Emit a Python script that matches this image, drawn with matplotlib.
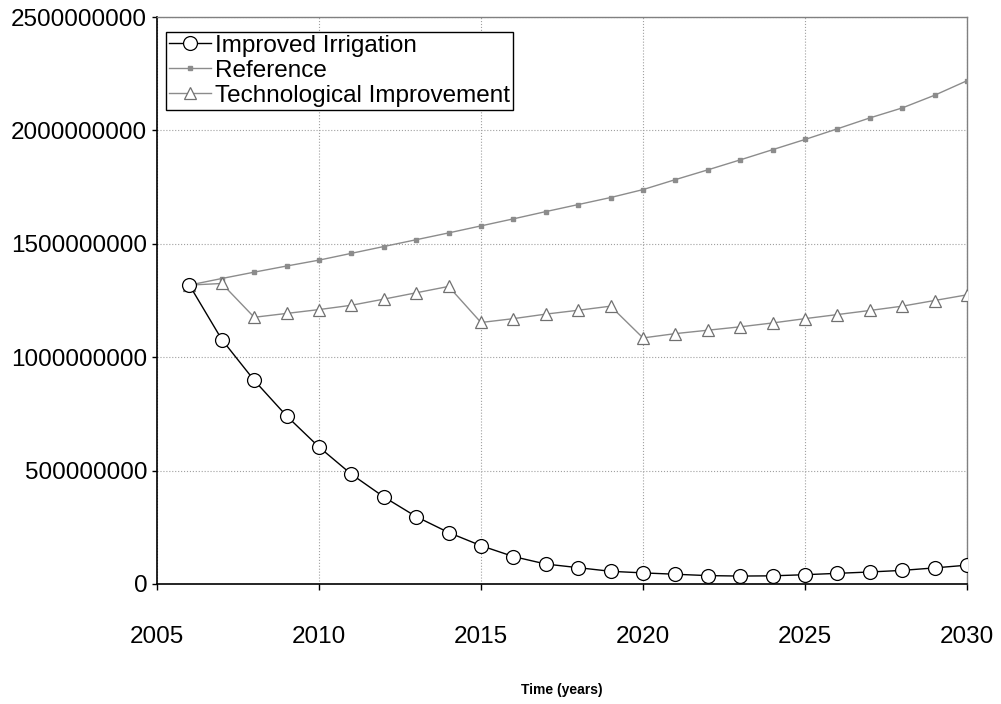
import matplotlib
matplotlib.use("Agg")
import matplotlib.pyplot as plt
from matplotlib.ticker import FuncFormatter

plt.rcParams['font.family'] = ['Liberation Sans', 'DejaVu Sans']

years = list(range(2006, 2031))
improved_irrigation = [1318e6, 1078e6, 898e6, 741e6, 604e6, 484e6, 384e6, 297e6, 227e6,
                       169e6, 121e6, 88e6, 72e6, 56e6, 49e6, 43e6, 37e6, 35e6, 36e6,
                       41e6, 47e6, 53e6, 60e6, 71e6, 83e6]
reference = [1318e6, 1347e6, 1375e6, 1402e6, 1428e6, 1458e6, 1488e6, 1518e6, 1548e6,
             1579e6, 1610e6, 1642e6, 1673e6, 1704e6, 1739e6, 1783e6, 1826e6, 1870e6,
             1915e6, 1960e6, 2007e6, 2055e6, 2099e6, 2155e6, 2219e6]
tech_improvement = [1318e6, 1325e6, 1176e6, 1193e6, 1210e6, 1229e6, 1256e6, 1284e6, 1312e6,
                    1153e6, 1170e6, 1190e6, 1207e6, 1225e6, 1085e6, 1104e6, 1119e6, 1134e6,
                    1151e6, 1170e6, 1188e6, 1206e6, 1225e6, 1250e6, 1275e6]
x_ticks = [2005, 2010, 2015, 2020, 2025, 2030]
y_ticks = [0, 500000000, 1000000000, 1500000000, 2000000000, 2500000000]

fig = plt.figure(figsize=(10.01, 7.04), dpi=100)
ax = fig.add_axes([157/1001, 1-584/704, (967-157)/1001, (584-17)/704])

grey = '#8c8c8c'
ax.plot(years, improved_irrigation, color='black', lw=1.0, marker='o', markersize=10,
        markerfacecolor='white', markeredgecolor='black', markeredgewidth=0.9,
        label='Improved Irrigation', zorder=4)
ax.plot(years, reference, color=grey, lw=1.0, marker='s', markersize=2.5,
        markerfacecolor=grey, markeredgecolor=grey, label='Reference', zorder=3)
ax.plot(years, tech_improvement, color=grey, lw=1.0, marker='^', markersize=8,
        markerfacecolor='white', markeredgecolor='#707070', markeredgewidth=0.9,
        label='Technological Improvement', zorder=3)

ax.set_xlim(2005, 2030)
ax.set_ylim(0, 2500000000)
ax.set_xticks(x_ticks)
ax.set_yticks(y_ticks)
ax.yaxis.set_major_formatter(FuncFormatter(lambda v, p: f"{int(v)}"))
ax.grid(True, color='#a0a0a0', linestyle=':', linewidth=0.8)
ax.set_axisbelow(True)

for s in ['top', 'right']:
    ax.spines[s].set_color('#808080')
    ax.spines[s].set_linewidth(1.0)
for s in ['left', 'bottom']:
    ax.spines[s].set_color('black')
    ax.spines[s].set_linewidth(1.2)

ax.tick_params(axis='x', direction='out', length=4.5, width=1, pad=26, labelsize=17.5)
ax.tick_params(axis='y', direction='out', length=3.6, width=1, pad=3.5, labelsize=17.5)

ax.set_xlabel('Time (years)', fontsize=10, fontweight='bold', labelpad=25)

leg = ax.legend(loc='upper left', bbox_to_anchor=(166/1001, 1-32/704),
                bbox_transform=fig.transFigure, borderaxespad=0, fontsize=17.5,
                frameon=True, fancybox=False, framealpha=1, edgecolor='black',
                handlelength=1.75, handletextpad=0.15, labelspacing=0.12,
                borderpad=0.12)
leg.get_frame().set_linewidth(1.0)

fig.savefig('out.png', dpi=100)
